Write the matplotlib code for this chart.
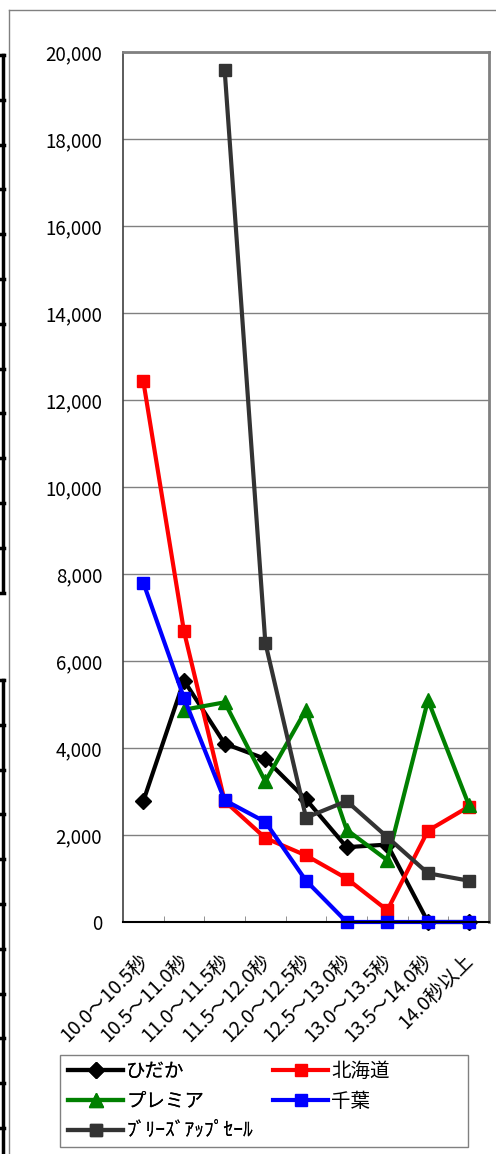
import matplotlib
matplotlib.use("Agg")
import matplotlib.pyplot as plt
from matplotlib.lines import Line2D
from matplotlib.patches import Rectangle
import matplotlib.transforms as mtransforms
import numpy as np

plt.rcParams['font.family'] = ['Noto Sans CJK JP', 'DejaVu Sans']

categories = ["10.0～10.5秒", "10.5～11.0秒", "11.0～11.5秒", "11.5～12.0秒",
              "12.0～12.5秒", "12.5～13.0秒", "13.0～13.5秒", "13.5～14.0秒", "14.0秒以上"]

hidaka = [2780, 5550, 4100, 3750, 2820, 1720, 1780, 0, 0]
hokkaido = [12430, 6680, 2780, 1930, 1530, 1000, 270, 2100, 2650]
premier = [np.nan, 4880, 5050, 3230, 4880, 2120, 1420, 5100, 2700]
chiba = [7800, 5150, 2800, 2300, 950, 0, 0, 0, 0]
breeze = [np.nan, np.nan, 19580, 6420, 2400, 2780, 1950, 1120, 950]

series_names = ["ひだか", "北海道", "プレミア", "千葉", "ﾌﾞﾘｰｽﾞｱｯﾌﾟｾｰﾙ"]
y_ticks = [0, 2000, 4000, 6000, 8000, 10000, 12000, 14000, 16000, 18000, 20000]

W, H = 496, 1154
fig = plt.figure(figsize=(W / 100, H / 100), dpi=100)

def fx(px):
    return px / W

def fy(py):
    return 1 - py / H

ax = fig.add_axes([fx(123), fy(922), fx(489) - fx(123), fy(52) - fy(922)])

x = np.arange(len(categories))
styles = [
    (hidaka, "black", "D", 8),
    (hokkaido, "#FF0000", "s", 9),
    (premier, "#008000", "^", 10),
    (chiba, "#0000FF", "s", 9),
    (breeze, "#333333", "s", 9),
]
handles = []
for (vals, col, mk, ms), name in zip(styles, series_names):
    h, = ax.plot(x, vals, color=col, lw=3, marker=mk, ms=ms, mfc=col, mec=col,
                 label=name, clip_on=False)
    handles.append(h)

ax.set_xlim(-0.5, len(categories) - 0.5)
ax.set_ylim(0, 20000)
ax.set_yticks(y_ticks)
ax.set_yticklabels([f"{v:,}" for v in y_ticks], fontsize=13.5)
ax.tick_params(axis='y', length=0, pad=15)
ax.yaxis.grid(True, color="#808080", lw=1)
ax.set_axisbelow(True)

ax.set_xticks(x)
ax.set_xticklabels(categories, fontsize=14, rotation=45, ha='right', va='top',
                   rotation_mode='anchor')
ax.tick_params(axis='x', which='major', length=0, pad=20)
shift = mtransforms.ScaledTranslation(-6 / 100, 0, fig.dpi_scale_trans)
for lab in ax.get_xticklabels():
    lab.set_transform(lab.get_transform() + shift)
ax.set_xticks(np.arange(0.5, len(categories) - 0.5, 1.0), minor=True)
ax.tick_params(axis='x', which='minor', direction='in', length=4, color='#808080')

for s in ['top', 'right']:
    ax.spines[s].set_color('#808080')
    ax.spines[s].set_linewidth(2)
ax.spines['left'].set_color('#404040')
ax.spines['left'].set_linewidth(1.2)
ax.spines['bottom'].set_color('black')
ax.spines['bottom'].set_linewidth(1.5)

# legend frame
fig.add_artist(Rectangle((fx(60), fy(1147)), fx(468) - fx(60), fy(1055) - fy(1147),
                         transform=fig.transFigure, facecolor='white',
                         edgecolor='#808080', lw=1))
leg_kw = dict(loc='upper left', fontsize=14, frameon=False, handlelength=2.85,
              handletextpad=0.15, borderpad=0.0, labelspacing=0.45, borderaxespad=0)
col1 = [0, 2, 4]
col2 = [1, 3]
leg1 = fig.legend([handles[i] for i in col1], [series_names[i] for i in col1],
                  bbox_to_anchor=(fx(68), fy(1061)), **leg_kw)
fig.add_artist(leg1)
leg2 = fig.legend([handles[i] for i in col2], [series_names[i] for i in col2],
                  bbox_to_anchor=(fx(273), fy(1061)), **leg_kw)

# outer chart border
fig.add_artist(Line2D([fx(9), fx(9)], [fy(10), 0], transform=fig.transFigure,
                      color='#808080', lw=1))
fig.add_artist(Line2D([fx(9), 1], [fy(10), fy(10)], transform=fig.transFigure,
                      color='#808080', lw=1))

# neighbouring cell borders at the left edge
for top, bot in [(55, 592), (680, 1154)]:
    fig.add_artist(Line2D([fx(3), fx(3)], [fy(top), fy(bot)], transform=fig.transFigure,
                          color='black', lw=2.5))
    yy = top
    while yy <= bot + 1:
        fig.add_artist(Line2D([0, fx(4)], [fy(yy), fy(yy)], transform=fig.transFigure,
                              color='black', lw=2.5))
        yy += 44.8

fig.savefig("out.png", dpi=100)
